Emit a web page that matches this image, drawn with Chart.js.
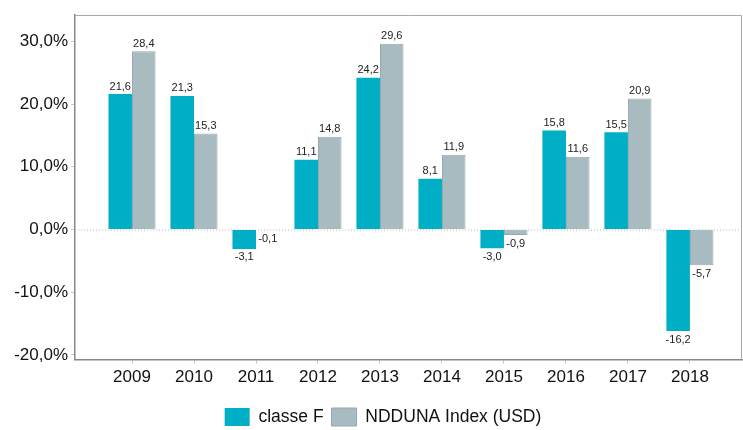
<!DOCTYPE html>
<html lang="fr">
<head>
<meta charset="UTF-8">
<title>classe F vs NDDUNA Index</title>
<script src="https://cdn.jsdelivr.net/npm/chart.js"></script>
<style>
    html, body { margin: 0; padding: 0; background: #fff; }
    #wrap { width: 743px; height: 430px; }
</style>
</head>
<body>
<div id="wrap"><canvas id="myBarChart" width="743" height="430"></canvas></div>
<script>
// values
var years = [2009, 2010, 2011, 2012, 2013, 2014, 2015, 2016, 2017, 2018];
var classeF = [21.6, 21.3, -3.1, 11.1, 24.2, 8.1, -3.0, 15.8, 15.5, -16.2];
var nddunaIndex = [28.4, 15.3, -0.1, 14.8, 29.6, 11.9, -0.9, 11.6, 20.9, -5.7];
var yTicks = [-20, -10, 0, 10, 20, 30];
var seriesNames = ['classe F', 'NDDUNA Index (USD)'];

var FONT = '"Liberation Sans", Arial, sans-serif';

function toPoints(values) {
    return years.map(function (y, i) { return { x: y, y: values[i] }; });
}

function fmt(v, digits) {
    return v.toFixed(digits).replace('.', ',');
}

// frame round the plot + dotted zero line
var framePlugin = {
    id: 'frame',
    afterLayout: function (chart) {
        // legend sits a bit right of centre in the original
        chart.legend.left += 12;
        chart.legend.right += 12;
    },
    beforeDatasetsDraw: function (chart) {
        var ctx = chart.ctx, a = chart.chartArea;
        var y0 = chart.scales.y.getPixelForValue(0);
        ctx.save();
        ctx.strokeStyle = '#b5b5b5';
        ctx.lineWidth = 1;
        ctx.setLineDash([1, 2]);
        ctx.beginPath();
        ctx.moveTo(a.left, y0 + 0.5);
        ctx.lineTo(a.right, y0 + 0.5);
        ctx.stroke();
        ctx.setLineDash([]);
        ctx.strokeStyle = '#a8a8a8';
        ctx.beginPath();
        ctx.moveTo(a.left, a.top + 0.5);
        ctx.lineTo(a.right - 0.5, a.top + 0.5);
        ctx.lineTo(a.right - 0.5, a.bottom);
        ctx.stroke();
        ctx.restore();
    }
};

// value labels above / below each bar
var labelPlugin = {
    id: 'barLabels',
    afterDatasetsDraw: function (chart) {
        var ctx = chart.ctx;
        ctx.save();
        ctx.font = '11px ' + FONT;
        ctx.fillStyle = '#222';
        ctx.textAlign = 'center';
        chart.data.datasets.forEach(function (ds, di) {
            chart.getDatasetMeta(di).data.forEach(function (bar, i) {
                var v = ds.data[i].y;
                if (v >= 0) {
                    ctx.textBaseline = 'bottom';
                    ctx.fillText(fmt(v, 1), bar.x, bar.y - 2);
                } else {
                    ctx.textBaseline = 'top';
                    ctx.fillText(fmt(v, 1), bar.x, bar.y + 3);
                }
            });
        });
        ctx.restore();
    }
};

var ctx = document.getElementById('myBarChart').getContext('2d');
var myBarChart = new Chart(ctx, {
    type: 'bar',
    data: {
        datasets: [{
            label: seriesNames[0],
            data: toPoints(classeF),
            backgroundColor: '#00afc6',
            borderColor: '#00a3b8',
            borderWidth: 0,
            categoryPercentage: 0.76,
            barPercentage: 1.0
        }, {
            label: seriesNames[1],
            data: toPoints(nddunaIndex),
            backgroundColor: '#a8bbc1',
            borderColor: '#94a8ae',
            borderWidth: 1,
            categoryPercentage: 0.76,
            barPercentage: 1.0
        }]
    },
    options: {
        responsive: false,
        animation: false,
        layout: { padding: { top: 15, right: 1, left: 0, bottom: -6 } },
        scales: {
            x: {
                type: 'linear',
                offset: false,
                min: 2008.08,
                max: 2018.84,
                afterBuildTicks: function (scale) {
                    scale.ticks = years.map(function (y) { return { value: y }; });
                },
                afterFit: function (scale) { scale.height += 8; },
                ticks: {
                    callback: function (v) { return String(v); },
                    font: { family: FONT, size: 17 },
                    color: '#111',
                    padding: 4,
                    maxRotation: 0,
                    autoSkip: false
                },
                grid: { offset: false, drawOnChartArea: false, tickLength: 4, color: '#c8c8c8' },
                border: { color: '#888', width: 1.5 }
            },
            y: {
                min: -20.75,
                max: 34.2,
                afterBuildTicks: function (scale) {
                    scale.ticks = yTicks.map(function (v) { return { value: v }; });
                },
                afterFit: function (scale) { scale.width = 75; },
                ticks: {
                    callback: function (v) { return fmt(v, 1) + '%'; },
                    font: { family: FONT, size: 17 },
                    color: '#111',
                    padding: 3
                },
                grid: { drawOnChartArea: false, tickLength: 4, color: '#c8c8c8' },
                border: { color: '#888', width: 1.5 }
            }
        },
        plugins: {
            legend: {
                position: 'bottom',
                labels: {
                    boxWidth: 25,
                    boxHeight: 18,
                    padding: 8,
                    color: '#111',
                    font: { family: FONT, size: 17.5 }
                }
            },
            tooltip: { enabled: false }
        }
    },
    plugins: [framePlugin, labelPlugin]
});
</script>
</body>
</html>
